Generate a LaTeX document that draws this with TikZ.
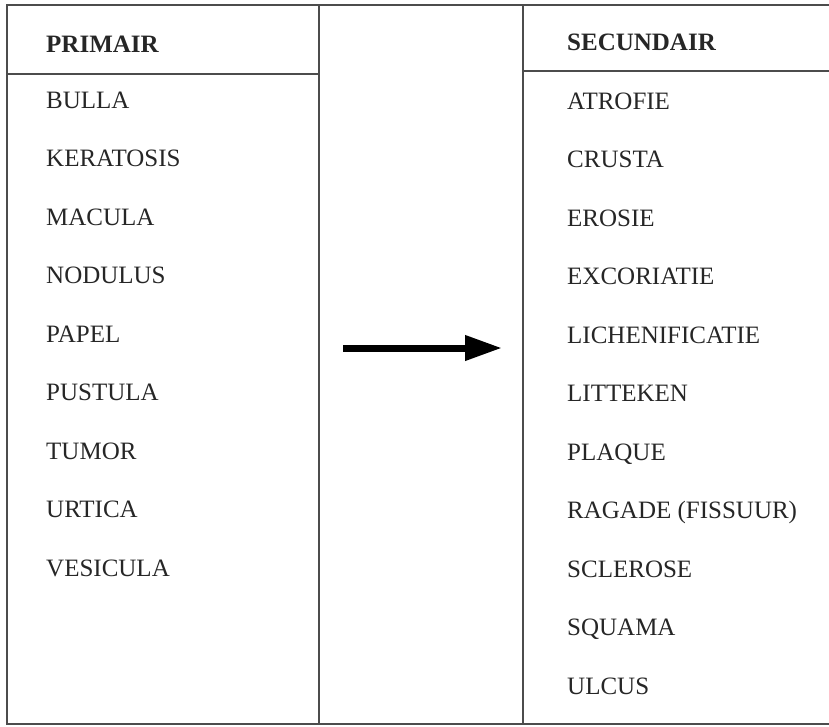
\documentclass[tikz,border=0pt]{standalone}
\usepackage{fontspec}
\setmainfont{Liberation Serif}
\usepackage{tikz}
\usetikzlibrary{arrows.meta}
\tikzset{
    term/.style={anchor=west, inner sep=0pt, text height=0.66em, text depth=0pt,
        font=\fontsize{25}{28}\selectfont, text=black!85},
    head/.style={term, font=\fontsize{25}{28}\selectfont\bfseries},
    rule/.style={draw=black!70, line width=1.3pt}}

\begin{document}
\begin{tikzpicture}[x=1pt, y=-1pt]

            \useasboundingbox (0,0) rectangle (829,726);

            % frame and columns
            \draw[rule] (829,5) -- (7,5) -- (7,724) -- (829,724);
            \draw[rule] (319,5) -- (319,724);
            \draw[rule] (523,5) -- (523,724);
            \draw[rule] (7,74) -- (319,74);
            \draw[rule] (523,71) -- (829,71);

            \node[head] (P0) at (46,49) {PRIMAIR};
            \node[term] (P1) at (46,105) {BULLA};
            \node[term] (P2) at (46,163.5) {KERATOSIS};
            \node[term] (P3) at (46,222) {MACULA};
            \node[term] (P4) at (46,280.5) {NODULUS};
            \node[term] (P5) at (46,339) {PAPEL};
            \node[term] (P6) at (46,397.5) {PUSTULA};
            \node[term] (P7) at (46,456) {TUMOR};
            \node[term] (P8) at (46,514.5) {URTICA};
            \node[term] (P9) at (46,573) {VESICULA};

            \node[head] (S0) at (567,47) {SECUNDAIR};
            \node[term] (S1) at (567,106) {ATROFIE};
            \node[term] (S2) at (567,164.5) {CRUSTA};
            \node[term] (S3) at (567,223) {EROSIE};
            \node[term] (S4) at (567,281.5) {EXCORIATIE};
            \node[term] (S5) at (567,340) {LICHENIFICATIE};
            \node[term] (S6) at (567,398.5) {LITTEKEN};
            \node[term] (S7) at (567,457) {PLAQUE};
            \node[term] (S8) at (567,515.5) {RAGADE\ (FISSUUR)};
            \node[term] (S9) at (567,574) {SCLEROSE};
            \node[term] (S10) at (567,632.5) {SQUAMA};
            \node[term] (S11) at (567,691) {ULCUS};

            \coordinate (A) at (343,348);
            \coordinate (B) at (502,348);
            \draw[line width=7pt, -{Triangle[length=37pt, width=24pt]}] (A) -- (B);

        \end{tikzpicture}
\end{document}
